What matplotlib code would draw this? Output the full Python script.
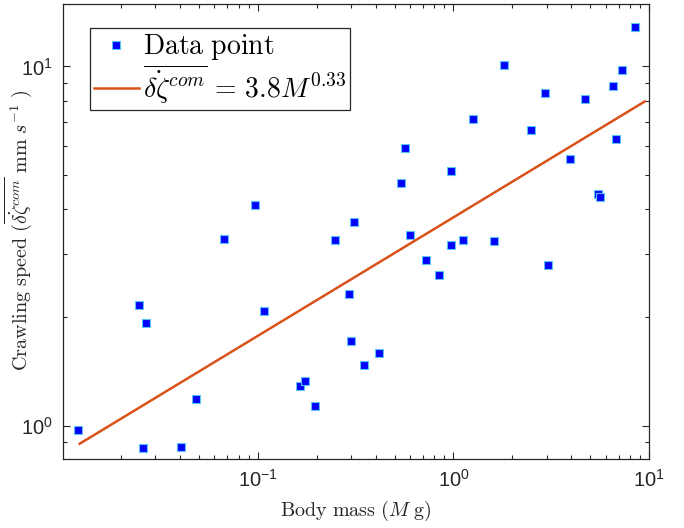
import numpy as np
import matplotlib
matplotlib.use("Agg")
import matplotlib.pyplot as plt
from matplotlib.ticker import LogLocator, NullFormatter
from matplotlib.font_manager import FontProperties

plt.rcParams["font.family"] = ["Liberation Sans", "DejaVu Sans"]
plt.rcParams["mathtext.fontset"] = "custom"
plt.rcParams["mathtext.rm"] = "Liberation Sans"
plt.rcParams["mathtext.it"] = "Liberation Sans:italic"
plt.rcParams["mathtext.bf"] = "Liberation Sans:bold"

# Body mass (g) and crawling speed (mm/s)
mass = [0.0120, 0.0248, 0.0268, 0.0258, 0.0403, 0.0483, 0.108, 0.291,
        0.301, 0.348, 0.416, 0.165, 0.175, 0.195, 0.0968, 0.0675, 0.249,
        0.309, 8.48, 1.81, 7.30, 6.55, 2.93, 4.69, 1.266, 2.49, 6.78,
        0.568, 3.93, 0.539, 0.977, 5.48, 5.63, 0.603, 0.977, 1.12, 1.62,
        0.728, 0.841, 3.04]
speed = [0.973, 2.17, 1.93, 0.868, 0.874, 1.184, 2.08, 2.32,
         1.725, 1.476, 1.59, 1.29, 1.334, 1.137, 4.10, 3.31, 3.28,
         3.69, 12.9, 10.1, 9.77, 8.84, 8.41, 8.09, 7.16, 6.66, 6.26,
         5.94, 5.51, 4.75, 5.12, 4.42, 4.34, 3.40, 3.18, 3.29, 3.27,
         2.89, 2.62, 2.80]

# power law fit: speed = 3.8 * M^0.33
fit_coef = 3.8
fit_exp = 0.33
fit_range = [0.0123, 9.5]

fit_x = np.array(fit_range)
fit_y = fit_coef * fit_x ** fit_exp

fig = plt.figure(figsize=(6.84, 5.28), dpi=100)
ax = fig.add_axes([0.092, 0.131, 0.857, 0.861])

ax.plot(mass, speed, "s", color="#0000ff", markeredgecolor="#5cc4f0",
        markeredgewidth=0.8, markersize=6.2, linestyle="none",
        label=r"$\mathrm{Data\ point}$")
ax.plot(fit_x, fit_y, color="#d95319", linewidth=1.8,
        label=r"$\overline{\dot{\delta\zeta}^{com}}\,=\,3.8M^{0.33}$")

ax.set_xscale("log")
ax.set_yscale("log")
ax.set_xlim(0.0101, 10)
ax.set_ylim(0.808, 14.9)
ax.set_xticks([0.1, 1, 10])
ax.set_yticks([1, 10])
ax.xaxis.set_minor_locator(LogLocator(base=10, subs=np.arange(2, 10)))
ax.yaxis.set_minor_locator(LogLocator(base=10, subs=np.arange(2, 10)))
ax.xaxis.set_minor_formatter(NullFormatter())
ax.yaxis.set_minor_formatter(NullFormatter())

ax.tick_params(which="both", direction="in", top=True, right=True,
               colors="#262626", labelsize=14.5, width=0.8)
ax.tick_params(which="major", length=5)
ax.tick_params(which="minor", length=2.8)
ax.tick_params(axis="x", pad=7)
ax.tick_params(axis="y", pad=7)
for s in ax.spines.values():
    s.set_color("#262626")
    s.set_linewidth(0.9)

ax.set_xlabel(r"$\mathrm{Body\ mass\ (}M\mathrm{\ g)}$", fontsize=14.5,
              color="#262626", labelpad=6, math_fontfamily="cm")
ax.set_ylabel(r"$\mathrm{Crawling\ speed\ (}\overline{\dot{\delta\zeta}^{com}}"
              r"\mathrm{\ mm\ }s^{-1}\mathrm{\ )}$", fontsize=14.5,
              color="#262626", math_fontfamily="cm")
ax.yaxis.set_label_coords(-0.0495, 0.502)

leg_font = FontProperties(size=20, math_fontfamily="cm")
leg = ax.legend(loc="upper left", bbox_to_anchor=(0.046, 0.947),
                borderaxespad=0, prop=leg_font, fancybox=False,
                edgecolor="#262626", framealpha=1, handlelength=1.6,
                handletextpad=0.15, borderpad=0.15, labelspacing=0.0)
leg.get_frame().set_linewidth(0.9)

fig.savefig("out.png", dpi=100)
